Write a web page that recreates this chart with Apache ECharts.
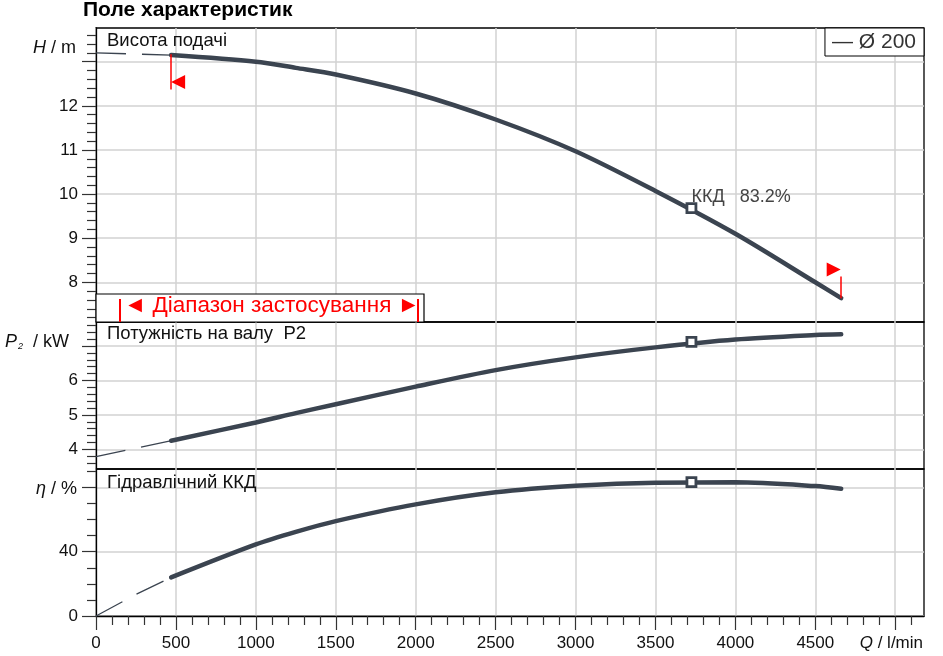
<!DOCTYPE html>
<html>
<head>
<meta charset="utf-8">
<title>Поле характеристик</title>
<script src="https://cdn.jsdelivr.net/npm/echarts@6/dist/echarts.min.js"></script>
<style>
  html, body { margin: 0; padding: 0; background: #fff; }
  #chart { width: 943px; height: 656px; }
</style>
</head>
<body>
<div id="chart"></div>
<script>
// подача Q, l/min (точки кривих)
var flowQ = [470, 1000, 1250, 1500, 2000, 2500, 3000, 3500, 4000, 4500, 4662];
var headH = [13.15, 13.0, 12.86, 12.71, 12.28, 11.69, 10.97, 10.07, 9.1, 8.0, 7.64];
var powerP = [4.25, 4.78, 5.05, 5.31, 5.82, 6.30, 6.67, 6.96, 7.19, 7.32, 7.34];
var effEta = [24.0, 44.5, 52.3, 59.0, 69.4, 76.9, 81.0, 82.9, 83.1, 80.8, 79.1];

// пунктирне продовження поза діапазоном
var dashQ = [0, 470];
var hDash = [13.2, 13.15];
var pDash = [3.79, 4.25];
var etaDashQ = [0, 250, 470];
var etaDash = [0, 13.4, 24.0];

// робоча точка (ККД)
var bepQ = 3725;
var bepH = 9.68;
var bepP = 7.12;
var bepEta = 83.2;

// діапазон застосування
var rangeStart = 470;
var rangeEnd = 4662;

// поділки осей
var xMax = 5180;
var xTicks = [0, 500, 1000, 1500, 2000, 2500, 3000, 3500, 4000, 4500, 5000];
var xLabels = [0, 500, 1000, 1500, 2000, 2500, 3000, 3500, 4000, 4500];
var hTicks = [8, 9, 10, 11, 12, 13];
var hLabels = [8, 9, 10, 11, 12];
var pTicks = [4, 5, 6, 7];
var pLabels = [4, 5, 6];
var etaTicks = [0, 40, 80];
var etaLabels = [0, 40];
var etaMinor = [10, 20, 30, 50, 60, 70, 90];

function steps(from, to, step, skip) {
    var out = [];
    for (var v = from; v <= to + 1e-9; v += step) {
        var r = Math.round(v * 10) / 10;
        if (skip.indexOf(r) < 0) out.push(r);
    }
    return out;
}
var xMinor = steps(100, 5100, 100, xTicks);
var hMinor = steps(7.2, 13.6, 0.2, hTicks);
var pMinor = steps(3.6, 7.6, 0.2, pTicks);

function pairs(qs, vs) {
    return qs.map(function (q, i) { return [q, vs[i]]; });
}

var FONT = 'Liberation Sans, Arial, Helvetica, sans-serif';
var LINE = '#3b4450';
var RED = '#ff0000';
var GRIDLINE = { show: true, lineStyle: { color: '#d2d2d2', width: 1.5 } };
var TICK = { color: '#333', width: 1.2 };

function plainNum(v) { return String(v); }

function majorY(grid, min, max, ticks, labels, name, rich, padRight) {
    return {
        type: 'value', gridIndex: grid, position: 'left', min: min, max: max,
        axisLine: { show: true, onZero: false, lineStyle: { color: '#000', width: 1.3 } },
        axisTick: { show: true, length: 14, customValues: ticks, lineStyle: TICK },
        axisLabel: { customValues: labels, margin: 18, fontSize: 17, color: '#111', fontFamily: FONT, formatter: plainNum },
        splitLine: GRIDLINE,
        name: name, nameLocation: 'end', nameGap: -20, nameMoveOverlap: false,
        nameTextStyle: {
            align: 'right', verticalAlign: 'middle', padding: [0, padRight, 0, 0],
            fontSize: 18, color: '#111', fontFamily: FONT, rich: rich
        }
    };
}

function minorY(grid, min, max, ticks) {
    return {
        type: 'value', gridIndex: grid, position: 'left', min: min, max: max,
        axisLine: { show: false, onZero: false },
        axisTick: { show: true, length: 9, customValues: ticks, lineStyle: TICK },
        axisLabel: { show: false },
        splitLine: { show: false }
    };
}

function plainX(grid) {
    return {
        type: 'value', gridIndex: grid, min: 0, max: xMax, position: 'bottom',
        axisLine: { show: false, onZero: false },
        axisTick: { show: false, customValues: xTicks },
        axisLabel: { show: false },
        splitLine: GRIDLINE
    };
}

var italic = { fontStyle: 'italic', fontSize: 18, color: '#111', fontFamily: FONT };

var dashStyle = { color: LINE, width: 1.3, type: [30, 16] };
var curveStyle = { color: LINE, width: 4.5, cap: 'round' };

function bepSeries(xi, yi, value, label) {
    return {
        type: 'scatter', xAxisIndex: xi, yAxisIndex: yi,
        data: [[bepQ, value]],
        symbol: 'rect', symbolSize: 9, z: 5, silent: true,
        itemStyle: { color: '#fff', borderColor: LINE, borderWidth: 2.8, opacity: 1 },
        label: label || { show: false }
    };
}

function curve(xi, yi, values) {
    return {
        type: 'line', xAxisIndex: xi, yAxisIndex: yi, data: pairs(flowQ, values),
        smooth: 0.3, symbol: 'none', silent: true,
        lineStyle: curveStyle, itemStyle: { color: LINE }
    };
}

var panelTitle = { fontSize: 18.5, fontWeight: 'normal', color: '#111', fontFamily: FONT };

var hCurve = curve(0, 0, headH);
hCurve.name = 'Ø 200';
hCurve.markLine = {
    silent: true, symbol: ['none', 'none'], label: { show: false },
    lineStyle: { color: RED, width: 1.5, type: 'solid' },
    data: [
        [{ coord: [rangeStart, 13.17] }, { coord: [rangeStart, 12.37] }],
        [{ coord: [rangeEnd, 7.64] }, { coord: [rangeEnd, 8.13] }]
    ]
};
hCurve.markPoint = {
    silent: true, symbol: 'triangle', symbolSize: [14, 14], label: { show: false },
    itemStyle: { color: RED },
    data: [
        { coord: [rangeStart, 12.54], symbolRotate: 90, symbolOffset: [7, 0] },
        { coord: [rangeEnd, 8.29], symbolRotate: -90, symbolOffset: [-7.5, 0] }
    ]
};

var chart = echarts.init(document.getElementById('chart'));

chart.setOption({
    animation: false,
    backgroundColor: '#fff',
    textStyle: { fontFamily: FONT },
    title: [
        { text: 'Поле характеристик', left: 83, top: 0, padding: 0,
          textStyle: { fontSize: 21, fontWeight: 'bold', color: '#000', fontFamily: FONT } },
        { text: 'Висота подачі', left: 107, top: 31, padding: 0, textStyle: panelTitle },
        { text: 'Потужність на валу  P2', left: 107, top: 324, padding: 0, textStyle: panelTitle },
        { text: 'Гідравлічний ККД', left: 107, top: 473, padding: 0, textStyle: panelTitle }
    ],
    legend: {
        data: ['Ø 200'], right: 19, top: 28, selectedMode: false,
        backgroundColor: '#fff', borderColor: '#000', borderWidth: 1, borderRadius: 0,
        padding: [4, 8, 3, 1], itemWidth: 0, itemHeight: 0,
        formatter: function (n) { return '— ' + n; },
        textStyle: { fontSize: 21, color: '#333', fontFamily: FONT }
    },
    grid: [
        { left: 96, right: 19, top: 28, height: 294, show: true, borderColor: '#000', borderWidth: 1.3, outerBoundsMode: 'none' },
        { left: 96, right: 19, top: 322, height: 147, show: true, borderColor: '#000', borderWidth: 1.3, outerBoundsMode: 'none' },
        { left: 96, right: 19, top: 469, height: 147, show: true, borderColor: '#000', borderWidth: 1.3, outerBoundsMode: 'none' }
    ],
    xAxis: [
        plainX(0),
        plainX(1),
        {
            type: 'value', gridIndex: 2, min: 0, max: xMax, position: 'bottom',
            axisLine: { show: true, onZero: false, lineStyle: { color: '#000', width: 1.3 } },
            axisTick: { show: true, length: 14, customValues: xTicks, lineStyle: TICK },
            axisLabel: { customValues: xLabels, margin: 19, fontSize: 17, color: '#111', fontFamily: FONT, formatter: plainNum },
            splitLine: GRIDLINE,
            name: '{i|Q} / l/min', nameLocation: 'end', nameGap: 0, nameMoveOverlap: false,
            nameTextStyle: {
                align: 'right', verticalAlign: 'top', padding: [19, 1, 0, 0],
                fontSize: 17, color: '#111', fontFamily: FONT,
                rich: { i: { fontStyle: 'italic', fontSize: 17, color: '#111', fontFamily: FONT } }
            }
        },
        {
            type: 'value', gridIndex: 2, min: 0, max: xMax, position: 'bottom',
            axisLine: { show: false, onZero: false },
            axisTick: { show: true, length: 9, customValues: xMinor, lineStyle: TICK },
            axisLabel: { show: false },
            splitLine: { show: false }
        }
    ],
    yAxis: [
        majorY(0, 7.10, 13.764, hTicks, hLabels, '{i|H} / m', { i: italic }, 20),
        minorY(0, 7.10, 13.764, hMinor),
        majorY(1, 3.428, 7.697, pTicks, pLabels, '{i|P}{s|2} / kW',
            { i: italic, s: { fontStyle: 'italic', fontSize: 9, color: '#111', padding: [9, 5, 0, 1], fontFamily: FONT } }, 27),
        minorY(1, 3.428, 7.697, pMinor),
        majorY(2, 0, 91.4, etaTicks, etaLabels, '{i|η} / %', { i: italic }, 19),
        minorY(2, 0, 91.4, etaMinor)
    ],
    graphic: [
        { type: 'rect', z: 10, shape: { x: 96, y: 294, width: 328, height: 28 },
          style: { fill: '#fff', stroke: '#000', lineWidth: 1.2 } },
        { type: 'line', z: 11, shape: { x1: 120, y1: 299, x2: 120, y2: 322 },
          style: { stroke: RED, lineWidth: 2 } },
        { type: 'line', z: 11, shape: { x1: 418, y1: 299, x2: 418, y2: 322 },
          style: { stroke: RED, lineWidth: 2 } },
        { type: 'text', z: 11,
          style: { x: 124, y: 306, text: '◄ Діапазон застосування ►', fill: RED,
                   font: '22.5px ' + FONT, align: 'left', verticalAlign: 'middle',
                   textAlign: 'left', textVerticalAlign: 'middle' } }
    ],
    series: [
        { type: 'line', xAxisIndex: 0, yAxisIndex: 0, data: pairs(dashQ, hDash),
          symbol: 'none', silent: true, lineStyle: dashStyle },
        hCurve,
        bepSeries(0, 0, bepH, {
            show: true, formatter: 'ККД   ' + bepEta + '%', position: [6, -14],
            fontSize: 18, color: '#444', fontFamily: FONT
        }),

        { type: 'line', xAxisIndex: 1, yAxisIndex: 2, data: pairs(dashQ, pDash),
          symbol: 'none', silent: true, lineStyle: dashStyle },
        curve(1, 2, powerP),
        bepSeries(1, 2, bepP),

        { type: 'line', xAxisIndex: 2, yAxisIndex: 4, data: pairs(etaDashQ, etaDash),
          symbol: 'none', silent: true, lineStyle: dashStyle },
        curve(2, 4, effEta),
        bepSeries(2, 4, bepEta)
    ]
});
</script>
</body>
</html>
